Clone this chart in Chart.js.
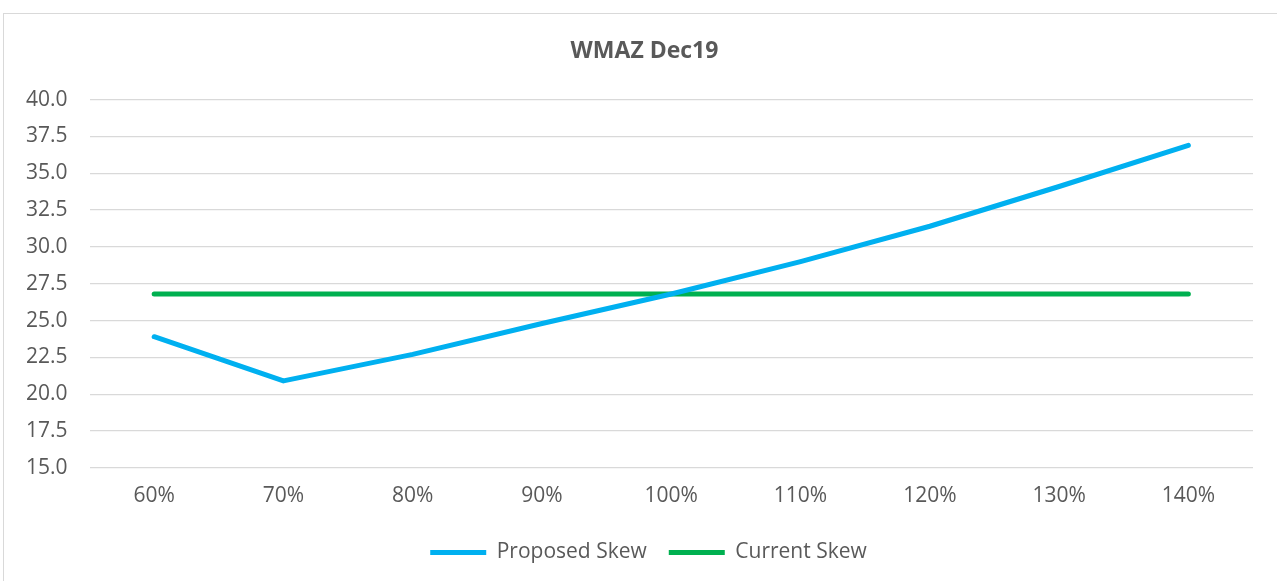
<!DOCTYPE html>
<html>
<head>
<meta charset="utf-8">
<script src="https://cdn.jsdelivr.net/npm/chart.js@4"></script>
<style>
  body { margin: 0; background: #fff; overflow: hidden; }
  #wrap { position: relative; width: 1277px; height: 581px; }
  #frame { position: absolute; left: 3px; top: 13px; width: 1300px; height: 600px; border: 1px solid #d9d9d9; }
  #myChart { position: absolute; left: 0; top: 0; }
</style>
</head>
<body>
<div id="wrap">
  <div id="frame"></div>
  <canvas id="myChart" width="1277" height="581"></canvas>
</div>
<script>
// Chart data
var title = "WMAZ Dec19";
var xLabels = ['60%', '70%', '80%', '90%', '100%', '110%', '120%', '130%', '140%'];
var proposedSkew = [23.9, 20.9, 22.7, 24.8, 26.8, 29.0, 31.4, 34.1, 36.9];
var currentSkew = [26.8, 26.8, 26.8, 26.8, 26.8, 26.8, 26.8, 26.8, 26.8];

// Y axis settings
var yMin = 15;
var yMax = 40;
var yStep = 2.5;

var textColor = '#595959';
var fontFamily = "'Open Sans', 'Liberation Sans', sans-serif";

const data = {
    labels: xLabels,
    datasets: [
        {
            label: 'Proposed Skew',
            data: proposedSkew,
            borderColor: '#00b0f0',
            backgroundColor: '#00b0f0',
            borderWidth: 5,
            borderCapStyle: 'round',
            borderJoinStyle: 'round',
            pointStyle: 'line',
            pointRadius: 0,
            tension: 0,
        },
        {
            label: 'Current Skew',
            data: currentSkew,
            borderColor: '#00b050',
            backgroundColor: '#00b050',
            borderWidth: 5,
            borderCapStyle: 'round',
            borderJoinStyle: 'round',
            pointStyle: 'line',
            pointRadius: 0,
            tension: 0,
        },
    ],
};

// Title and legend in the original are centred a bit right of the canvas centre
// (Excel centres them on the whole chart box) -- nudge them over
function nudge(box, dx, dy) {
    if (!box || box._nudged) return;
    var orig = box.draw;
    box.draw = function (area) {
        var ctx = this.ctx;
        ctx.save();
        ctx.translate(dx, dy);
        orig.call(this, area);
        ctx.restore();
    };
    box._nudged = true;
}

const nudgePlugin = {
    id: 'nudge',
    beforeDraw(chart) {
        nudge(chart.titleBlock, 16, 0);
        nudge(chart.legend, 20, 3);
    }
};

const config = {
    type: 'line',
    data,
    plugins: [nudgePlugin],
    options: {
        responsive: false,
        animation: false,
        layout: {
            padding: { top: 38, left: 4, right: 24, bottom: 11 }
        },
        scales: {
            x: {
                offset: true,
                grid: { display: false },
                border: { display: false },
                ticks: {
                    color: textColor,
                    padding: 8,
                    font: { family: fontFamily, size: 21 },
                }
            },
            y: {
                min: yMin,
                max: yMax,
                grid: { color: '#d9d9d9', lineWidth: 1.3, drawTicks: false },
                border: { display: false },
                ticks: {
                    stepSize: yStep,
                    color: textColor,
                    padding: 22,
                    font: { family: fontFamily, size: 21 },
                    callback: function (v) { return v.toFixed(1); }
                }
            }
        },
        plugins: {
            title: {
                display: true,
                text: title,
                color: textColor,
                font: { family: fontFamily, size: 23, weight: 'bold' },
                padding: { top: 0, bottom: 34 },
            },
            legend: {
                position: 'bottom',
                labels: {
                    color: textColor,
                    font: { family: fontFamily, size: 21 },
                    usePointStyle: true,
                    pointStyleWidth: 56,
                    padding: 22,
                },
            },
            tooltip: { enabled: false },
        },
    }
};

var myChart = new Chart(document.getElementById('myChart'), config);
</script>
</body>
</html>
